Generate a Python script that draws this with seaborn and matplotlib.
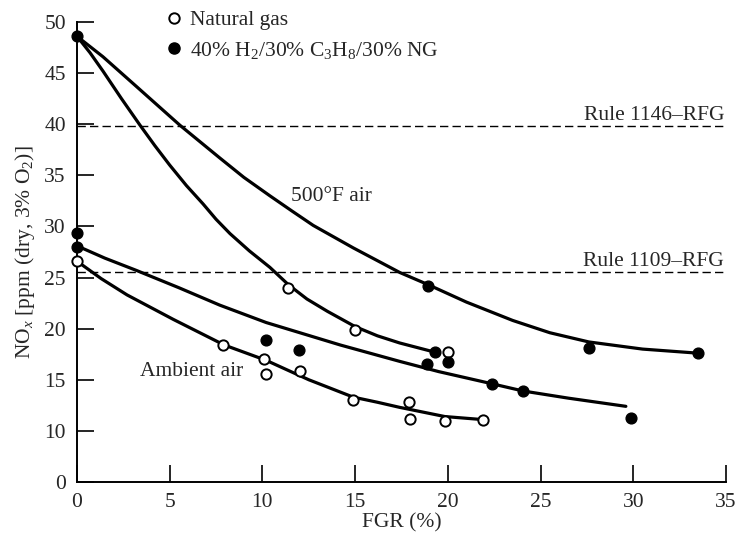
import numpy as np
import pandas as pd
import matplotlib
matplotlib.use("Agg")
import matplotlib.pyplot as plt
from matplotlib.lines import Line2D
import seaborn as sns

# ---- data ----
ng_fgr = [0.0, 7.9, 10.1, 10.2, 12.05, 11.4, 15.0, 14.9, 17.9, 17.95, 19.85, 21.9, 20.0]
ng_nox = [26.6, 18.4, 17.0, 15.6, 15.9, 24.0, 19.9, 13.0, 12.85, 11.2, 11.0, 11.1, 17.7]

mix_fgr = [0.0, 0.0, 0.0, 10.2, 11.95, 18.94, 19.3, 18.85, 20.0, 22.4, 24.06, 27.6, 33.5, 29.9]
mix_nox = [48.6, 29.4, 28.0, 18.9, 17.9, 24.2, 17.7, 16.5, 16.7, 14.6, 13.9, 18.1, 17.6, 11.3]

# fitted curves
ng_hot_x = [0.0, 0.7, 1.4, 2.4, 3.4, 4.2, 5.0, 5.9, 6.8, 7.5, 8.25, 9.3, 10.4, 11.4, 12.4,
            13.5, 15.0, 16.2, 17.4, 19.3]
ng_hot_y = [48.6, 47.0, 45.2, 42.5, 39.9, 37.9, 36.0, 34.0, 32.2, 30.7, 29.3, 27.6, 26.0, 24.3, 22.9,
            21.7, 20.2, 19.3, 18.6, 17.7]

mix_hot_x = [0.0, 1.4, 3.2, 5.55, 7.7, 9.0, 10.4, 11.6, 12.74, 14.9, 17.4, 18.94, 21.0, 23.5,
             25.5, 27.6, 30.5, 33.5]
mix_hot_y = [48.6, 46.6, 43.7, 39.9, 36.7, 34.8, 33.0, 31.5, 30.1, 27.9, 25.5, 24.3, 22.6, 20.8,
             19.6, 18.7, 18.0, 17.6]

mix_amb_x = [0.0, 1.5, 3.2, 5.5, 7.7, 10.2, 12.2, 14.2, 17.4, 19.5, 22.4, 24.06, 26.5, 29.6]
mix_amb_y = [28.1, 26.9, 25.7, 24.0, 22.3, 20.6, 19.5, 18.4, 16.8, 15.8, 14.6, 13.9, 13.2, 12.4]

ng_amb_x = [0.0, 1.3, 2.7, 5.2, 7.94, 10.2, 12.5, 14.9, 16.2, 17.4, 19.84, 21.9]
ng_amb_y = [26.6, 24.9, 23.3, 20.9, 18.4, 16.9, 15.0, 13.3, 12.8, 12.3, 11.4, 11.1]

rule_labels = ["Rule 1146\u2013RFG", "Rule 1109\u2013RFG"]
rule_levels = [39.8, 25.5]

x_ticks = [0, 5, 10, 15, 20, 25, 30, 35]
y_ticks = [5, 10, 15, 20, 25, 30, 35, 40, 45, 50]
y_tick_labels = ["0", "10", "15", "20", "25", "30", "35", "40", "45", "50"]

series_labels = ["Natural gas", "40% H$_2$/30% C$_3$H$_8$/30% NG"]

# ---- style ----
sns.set_style("ticks")
plt.rcParams["font.family"] = ["Liberation Serif", "DejaVu Serif"]
plt.rcParams["mathtext.fontset"] = "custom"
plt.rcParams["mathtext.rm"] = "Liberation Serif"
plt.rcParams["mathtext.it"] = "Liberation Serif:italic"
plt.rcParams["xtick.direction"] = "in"
plt.rcParams["ytick.direction"] = "in"
FS = 15.5

fig = plt.figure(figsize=(7.36, 5.39), dpi=100)
ax = fig.add_axes([0.1046, 0.1058, 0.8818, 0.8534])

# dashed regulatory limits
for lab, lev in zip(rule_labels, rule_levels):
    sns.lineplot(x=[0, 34.9], y=[lev, lev], color="black", lw=1.0,
                 linestyle=(0, (6, 3)), ax=ax)
    ax.text(34.9, lev + 0.6, lab, ha="right", va="baseline", fontsize=FS)

# curves
for cx, cy in [(ng_hot_x, ng_hot_y), (mix_hot_x, mix_hot_y),
               (mix_amb_x, mix_amb_y), (ng_amb_x, ng_amb_y)]:
    sns.lineplot(x=cx, y=cy, sort=False, estimator=None, color="black",
                 lw=2.3, ax=ax)
for ln in ax.lines:
    ln.set_solid_joinstyle("round")

# points
sns.scatterplot(x=ng_fgr, y=ng_nox, marker="o", s=55, color="white",
                edgecolor="black", linewidth=1.4, zorder=4, clip_on=False, ax=ax)
sns.scatterplot(x=mix_fgr, y=mix_nox, marker="o", s=60, color="black",
                edgecolor="black", linewidth=1.0, zorder=4, clip_on=False, ax=ax)

ax.text(13.7, 32.9, "500\u00b0F air", ha="center", va="center", fontsize=FS)
ax.text(6.2, 15.8, "Ambient air", ha="center", va="center", fontsize=FS)

ax.set_xlim(0, 35)
ax.set_ylim(5, 50)
ax.set_xticks(x_ticks)
ax.set_xticklabels([str(t) for t in x_ticks])
ax.set_yticks(y_ticks)
ax.set_yticklabels(y_tick_labels)
ax.tick_params(axis="both", labelsize=FS, length=12, width=1.2, color="black", pad=8)
ax.set_xlabel("FGR (%)", fontsize=FS, labelpad=1)
ax.set_ylabel("NO$_x$ [ppm (dry, 3% O$_2$)]", fontsize=FS, labelpad=5)
sns.despine(ax=ax)
for sp in ["left", "bottom"]:
    ax.spines[sp].set_linewidth(1.4)
    ax.spines[sp].set_color("black")

handles = [
    Line2D([], [], marker="o", linestyle="none", markerfacecolor="white",
           markeredgecolor="black", markeredgewidth=1.4, markersize=7.5),
    Line2D([], [], marker="o", linestyle="none", markerfacecolor="black",
           markeredgecolor="black", markersize=8),
]
fig.legend(handles, series_labels, loc="upper left", bbox_to_anchor=(0.228, 0.981),
           frameon=False, fontsize=FS, handlelength=0.6, handletextpad=0.45,
           labelspacing=0.45, borderpad=0.0, borderaxespad=0.0)

fig.savefig("out.png", dpi=100)
